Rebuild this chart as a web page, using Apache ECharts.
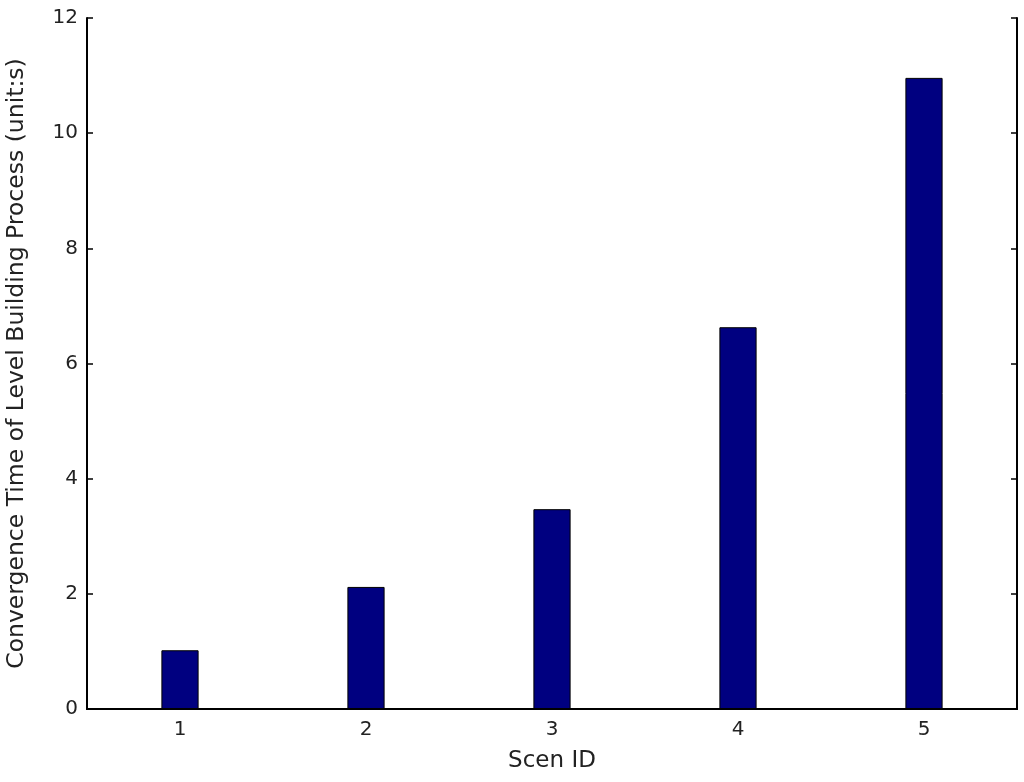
<!DOCTYPE html>
<html>
<head>
<meta charset="utf-8">
<script src="https://cdn.jsdelivr.net/npm/echarts@6/dist/echarts.min.js"></script>
<style>
  html, body { margin: 0; padding: 0; background: #fff; }
  #chart { width: 1024px; height: 782px; }
</style>
</head>
<body>
<div id="chart"></div>
<script>
const scenIds = ['1', '2', '3', '4', '5']
const convergenceTime = [1.02, 2.12, 3.47, 6.63, 10.96]
const yTicks = { min: 0, max: 12, interval: 2 }

const font = '"DejaVu Sans", sans-serif'
const tickStyle = { inside: true, length: 6, lineStyle: { color: '#000', width: 1.5 } }
const lineStyle = { lineStyle: { color: '#000', width: 2 } }

const chart = echarts.init(document.getElementById('chart'))
chart.setOption({
  animation: false,
  grid: { left: 87, right: 7, top: 18, bottom: 73, outerBoundsMode: 'none' },
  xAxis: [
    {
      type: 'category',
      data: scenIds,
      name: 'Scen ID',
      nameLocation: 'middle',
      nameGap: 41,
      nameTextStyle: { fontFamily: font, fontSize: 23, color: '#222' },
      axisLine: lineStyle,
      axisTick: Object.assign({ alignWithLabel: true }, tickStyle),
      axisLabel: { fontFamily: font, fontSize: 20, color: '#222', margin: 11 },
      splitLine: { show: false }
    },
    {
      type: 'category',
      data: scenIds,
      position: 'top',
      axisLine: lineStyle,
      axisTick: Object.assign({ alignWithLabel: true }, tickStyle),
      axisLabel: { show: false }
    }
  ],
  yAxis: [
    {
      type: 'value',
      min: yTicks.min,
      max: yTicks.max,
      interval: yTicks.interval,
      name: 'Convergence Time of Level Building Process (unit:s)',
      nameLocation: 'middle',
      nameGap: 58,
      nameTextStyle: { fontFamily: font, fontSize: 23.5, color: '#222' },
      axisLine: Object.assign({ show: true }, lineStyle),
      axisTick: Object.assign({ show: true }, tickStyle),
      axisLabel: { fontFamily: font, fontSize: 20, color: '#222', margin: 9 },
      splitLine: { show: false }
    },
    {
      type: 'value',
      min: yTicks.min,
      max: yTicks.max,
      interval: yTicks.interval,
      position: 'right',
      axisLine: Object.assign({ show: true }, lineStyle),
      axisTick: Object.assign({ show: true }, tickStyle),
      axisLabel: { show: false },
      splitLine: { show: false }
    }
  ],
  series: [
    {
      type: 'bar',
      data: convergenceTime,
      barWidth: '20%',
      itemStyle: { color: '#000080', borderColor: '#000', borderWidth: 1 }
    }
  ]
})
</script>
</body>
</html>
